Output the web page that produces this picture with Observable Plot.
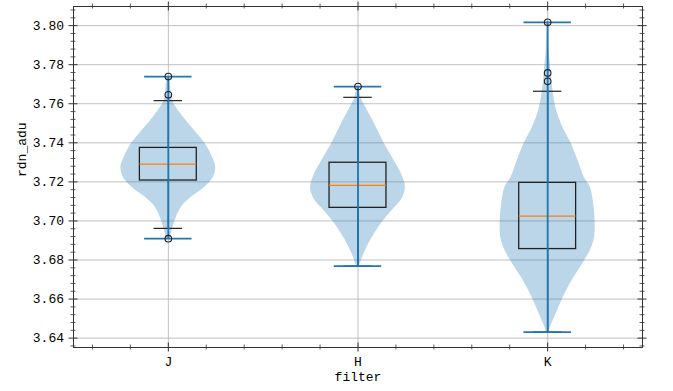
<!DOCTYPE html>
<html>
<head>
<meta charset="utf-8">
<script src="https://cdn.jsdelivr.net/npm/d3@7"></script>
<script src="https://cdn.jsdelivr.net/npm/@observablehq/plot@0.6"></script>
<style>
  html, body { margin: 0; padding: 0; background: white; }
</style>
</head>
<body>
<div id="chart"></div>
<script>
// ---- data ----
const filters = ["J", "H", "K"];
const positions = [1, 2, 3];

// violin outlines: value (rdn_adu) and relative density (0..1)
const jDensY = [3.7739, 3.7680, 3.7616, 3.7531, 3.7463, 3.7395, 3.7326, 3.7275, 3.7224, 3.7173, 3.7122, 3.7071, 3.7019, 3.6968, 3.6909];
const jDens  = [0.03, 0.05, 0.09, 0.32, 0.55, 0.78, 0.93, 1.00, 0.95, 0.77, 0.49, 0.28, 0.17, 0.10, 0.04];
const hDensY = [3.7688, 3.7633, 3.7574, 3.7488, 3.7403, 3.7318, 3.7233, 3.7173, 3.7114, 3.7054, 3.6990, 3.6934, 3.6880, 3.6834, 3.6769];
const hDens  = [0.03, 0.06, 0.18, 0.37, 0.54, 0.74, 0.93, 1.00, 0.93, 0.72, 0.50, 0.35, 0.22, 0.13, 0.03];
const kDensY = [3.8017, 3.7872, 3.7821, 3.7736, 3.7651, 3.7565, 3.7480, 3.7395, 3.7309, 3.7224, 3.7173, 3.7088, 3.7003, 3.6917, 3.6849, 3.6781, 3.6713, 3.6644, 3.6576, 3.6508, 3.6457, 3.6431];
const kDens  = [0.01, 0.03, 0.05, 0.08, 0.12, 0.19, 0.32, 0.50, 0.64, 0.77, 0.90, 0.97, 1.00, 0.99, 0.90, 0.74, 0.56, 0.40, 0.27, 0.15, 0.06, 0.03];

// box plot statistics
const q1Vals      = [3.7207, 3.7067, 3.6856];
const medianVals  = [3.7291, 3.7182, 3.7025];
const q3Vals      = [3.7374, 3.7298, 3.7195];
const whiskerLow  = [3.6962, 3.6769, 3.6431];
const whiskerHigh = [3.7616, 3.7633, 3.7664];
const minVals     = [3.6909, 3.6769, 3.6431];
const maxVals     = [3.7739, 3.7688, 3.8017];
const jFliers = [3.7739, 3.7646, 3.6909];
const hFliers = [3.7688];
const kFliers = [3.8017, 3.7758, 3.7715];

// ticks
const yMajor = [3.64, 3.66, 3.68, 3.70, 3.72, 3.74, 3.76, 3.78, 3.80];
const yMinor = d3.range(3.636, 3.8095, 0.004).filter(v => Math.abs(Math.round(v * 50) - v * 50) > 1e-6);
const xMajor = positions;
const xMinor = [0.6, 0.8, 1.2, 1.4, 1.6, 1.8, 2.2, 2.4, 2.6, 2.8, 3.2, 3.4];

// ---- build tables ----
const densYs = [jDensY, hDensY, kDensY];
const denss = [jDens, hDens, kDens];
const flierLists = [jFliers, hFliers, kFliers];

const violinRows = [];
filters.forEach((f, i) => {
  densYs[i].forEach((y, j) => violinRows.push({filter: f, pos: positions[i], y, d: denss[i][j]}));
});
const stats = filters.map((f, i) => ({
  filter: f, pos: positions[i],
  q1: q1Vals[i], med: medianVals[i], q3: q3Vals[i],
  wlo: whiskerLow[i], whi: whiskerHigh[i],
  min: minVals[i], max: maxVals[i]
}));
const fliers = [];
filters.forEach((f, i) => flierLists[i].forEach(v => fliers.push({filter: f, pos: positions[i], v})));

// ---- layout ----
const W = 673, H = 391;
const mL = 73, mR = 31, mT = 6, mB = 44;
const fw = W - mL - mR, fh = H - mT - mB;
const C0 = "#1f77b4", C1 = "#ff7f0e";
const axisColor = "#333";
const major = 9, minor = 5;

const chart = Plot.plot({
  width: W, height: H,
  marginLeft: mL, marginRight: mR, marginTop: mT, marginBottom: mB,
  style: {fontFamily: "'Liberation Mono', monospace", fontSize: "13px", color: "#000", background: "white", overflow: "visible"},
  x: {domain: [0.5, 3.5]},
  y: {domain: [3.6352, 3.8098]},
  marks: [
    Plot.gridY(yMajor, {stroke: "#b0b0b0", strokeOpacity: 1, strokeWidth: 0.8}),
    Plot.gridX(xMajor, {stroke: "#b0b0b0", strokeOpacity: 1, strokeWidth: 0.8}),
    // violin bodies
    Plot.areaX(violinRows, {
      y: "y",
      x1: d => d.pos - 0.25 * d.d,
      x2: d => d.pos + 0.25 * d.d,
      z: "filter", fill: C0, fillOpacity: 0.3, curve: "catmull-rom"
    }),
    // box plot
    Plot.ruleX(stats, {x: "pos", y1: "q3", y2: "whi", stroke: "#222", strokeWidth: 1.2}),
    Plot.ruleX(stats, {x: "pos", y1: "wlo", y2: "q1", stroke: "#222", strokeWidth: 1.2}),
    Plot.ruleY(stats, {y: "whi", x1: d => d.pos - 0.075, x2: d => d.pos + 0.075, stroke: "#222", strokeWidth: 1.2}),
    Plot.ruleY(stats, {y: "wlo", x1: d => d.pos - 0.075, x2: d => d.pos + 0.075, stroke: "#222", strokeWidth: 1.2}),
    Plot.rect(stats, {x1: d => d.pos - 0.15, x2: d => d.pos + 0.15, y1: "q1", y2: "q3", fill: "none", stroke: "#222", strokeWidth: 1.3}),
    Plot.ruleY(stats, {y: "med", x1: d => d.pos - 0.15, x2: d => d.pos + 0.15, stroke: C1, strokeWidth: 1.3}),
    // violin extrema lines
    Plot.ruleX(stats, {x: "pos", y1: "min", y2: "max", stroke: C0, strokeWidth: 1.8}),
    Plot.ruleY(stats, {y: "max", x1: d => d.pos - 0.125, x2: d => d.pos + 0.125, stroke: C0, strokeWidth: 1.8}),
    Plot.ruleY(stats, {y: "min", x1: d => d.pos - 0.125, x2: d => d.pos + 0.125, stroke: C0, strokeWidth: 1.8}),
    // fliers
    Plot.dot(fliers, {x: "pos", y: "v", r: 3.3, stroke: "#222", fill: "none", strokeWidth: 1.1}),
    // frame
    Plot.frame({stroke: axisColor, strokeWidth: 1}),
    // inout ticks: left / right
    Plot.tickY(yMajor, {y: d => d, insetRight: fw - major, dx: -major / 2, stroke: axisColor, strokeWidth: 1}),
    Plot.tickY(yMajor, {y: d => d, insetLeft: fw - major, dx: major / 2, stroke: axisColor, strokeWidth: 1}),
    Plot.tickY(yMinor, {y: d => d, insetRight: fw - minor, dx: -minor / 2, stroke: axisColor, strokeWidth: 0.8}),
    Plot.tickY(yMinor, {y: d => d, insetLeft: fw - minor, dx: minor / 2, stroke: axisColor, strokeWidth: 0.8}),
    // inout ticks: top / bottom
    Plot.tickX(xMajor, {x: d => d, insetBottom: fh - major, dy: -major / 2, stroke: axisColor, strokeWidth: 1}),
    Plot.tickX(xMajor, {x: d => d, insetTop: fh - major, dy: major / 2, stroke: axisColor, strokeWidth: 1}),
    Plot.tickX(xMinor, {x: d => d, insetBottom: fh - minor, dy: -minor / 2, stroke: axisColor, strokeWidth: 0.8}),
    Plot.tickX(xMinor, {x: d => d, insetTop: fh - minor, dy: minor / 2, stroke: axisColor, strokeWidth: 0.8}),
    // tick labels
    Plot.axisY({ticks: yMajor, tickFormat: d => d.toFixed(2), tickSize: 0, tickPadding: 9.5, label: null}),
    Plot.axisX({ticks: xMajor, tickFormat: d => filters[positions.indexOf(d)], tickSize: 0, tickPadding: 9, label: null}),
    // axis labels
    Plot.text(["filter"], {frameAnchor: "bottom", text: d => d, dy: 33, fontSize: 13}),
    Plot.text(["rdn_adu"], {frameAnchor: "left", text: d => d, dx: -52, rotate: -90, fontSize: 13})
  ]
});
document.getElementById("chart").appendChild(chart);
</script>
</body>
</html>
